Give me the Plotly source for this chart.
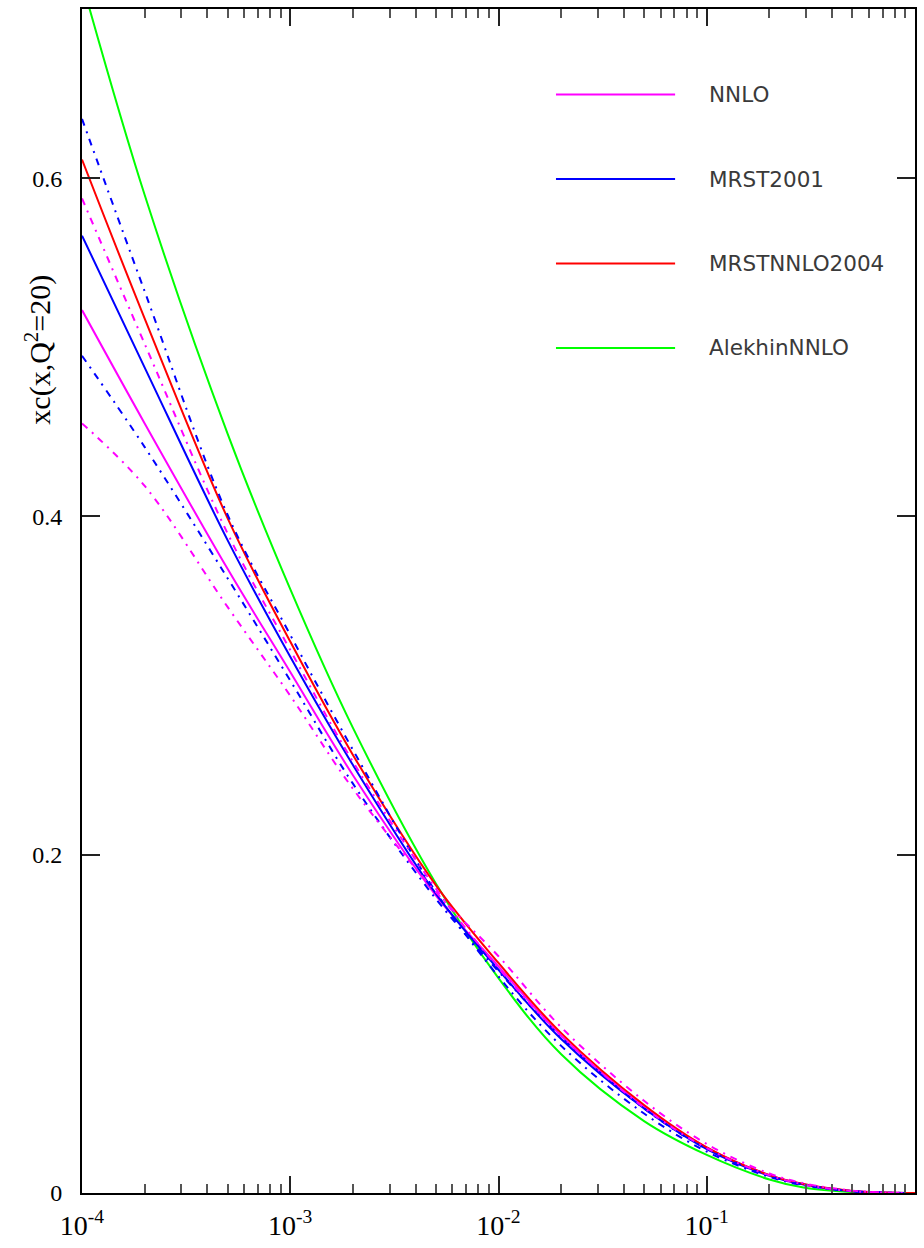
import plotly.graph_objects as go

# x grid (Bjorken x) at which the charm distributions are tabulated
x_pts = [1e-4, 2e-4, 5e-4, 1e-3, 2e-3, 5e-3, 1e-2, 2e-2, 5e-2, 0.1, 0.2, 0.3, 0.5, 0.7, 0.9]
x_red = x_pts + [1.0]

# xc(x, Q^2 = 20) for each parton set
nnlo = [0.522, 0.455, 0.369, 0.308, 0.247, 0.176, 0.134, 0.093, 0.051, 0.0268, 0.0105, 0.0049, 0.0012, 0.0003, 0.0]
mrst2001 = [0.566, 0.488, 0.386, 0.317, 0.253, 0.177, 0.132, 0.091, 0.050, 0.026, 0.0102, 0.0047, 0.0011, 0.0003, 0.0]
mrstnnlo2004 = [0.611, 0.517, 0.399, 0.326, 0.259, 0.182, 0.136, 0.0945, 0.052, 0.027, 0.0106, 0.0050, 0.0012, 0.0003, 0.0, 0.0]
alekhin = [0.716, 0.590, 0.449, 0.357, 0.275, 0.183, 0.127, 0.082, 0.0425, 0.0225, 0.0080, 0.0029, 0.0005, 0.0001, 0.0]

# uncertainty variations (dash-dotted)
nnlo_up = [0.588, 0.502, 0.390, 0.321, 0.255, 0.180, 0.133, 0.093, 0.0505, 0.0265, 0.0104, 0.0048, 0.0011, 0.0003, 0.0]
nnlo_dn = [0.455, 0.418, 0.3465, 0.294, 0.239, 0.178, 0.140, 0.098, 0.0545, 0.029, 0.0115, 0.0055, 0.0014, 0.0004, 0.0]
mrst_up = [0.635, 0.533, 0.401, 0.330, 0.262, 0.178, 0.128, 0.087, 0.047, 0.0245, 0.0095, 0.0043, 0.0010, 0.0002, 0.0]
mrst_dn = [0.495, 0.441, 0.3635, 0.303, 0.242, 0.174, 0.131, 0.092, 0.050, 0.026, 0.0102, 0.0047, 0.0011, 0.0003, 0.0]

x_tick_vals = [1e-4, 1e-3, 1e-2, 1e-1]
x_tick_text = ["10<sup>-4</sup>", "10<sup>-3</sup>", "10<sup>-2</sup>", "10<sup>-1</sup>"]
y_tick_vals = [0, 0.2, 0.4, 0.6]
y_tick_text = ["0", "0.2", "0.4", "0.6"]

legend_names = ["NNLO", "MRST2001", "MRSTNNLO2004", "AlekhinNNLO"]
MAGENTA, BLUE, RED, GREEN = "#ff00ff", "#0000ff", "#ff0000", "#00ff00"
legend_colors = [MAGENTA, BLUE, RED, GREEN]

DASHDOT = "7px,6px,2px,6px"

fig = go.Figure()


def add_curve(xs, ys, color, dash=None, name=None):
    fig.add_trace(go.Scatter(
        x=xs, y=ys, mode="lines", name=name, showlegend=False,
        line=dict(color=color, width=2, dash=dash, shape="spline", smoothing=1.0),
        hoverinfo="skip",
    ))


add_curve(x_pts, alekhin, GREEN, name="AlekhinNNLO")
add_curve(x_pts, nnlo, MAGENTA, name="NNLO")
add_curve(x_pts, mrst2001, BLUE, name="MRST2001")
add_curve(x_red, mrstnnlo2004, RED, name="MRSTNNLO2004")
add_curve(x_pts, mrst_up, BLUE, dash=DASHDOT)
add_curve(x_pts, mrst_dn, BLUE, dash=DASHDOT)
add_curve(x_pts, nnlo_up, MAGENTA, dash=DASHDOT)
add_curve(x_pts, nnlo_dn, MAGENTA, dash=DASHDOT)

# minor tick positions: 2..9 in each decade
minor_vals = [k * 10.0 ** e for e in range(-4, 0) for k in range(2, 10)]

serif = "Liberation Serif, Times New Roman, serif"

fig.update_xaxes(
    type="log", range=[-4, 0],
    tickmode="array", tickvals=x_tick_vals, ticktext=x_tick_text,
    ticks="inside", ticklen=17, tickwidth=1.5, tickcolor="#222",
    minor=dict(tickmode="array", tickvals=minor_vals, ticks="inside",
               ticklen=9, tickwidth=1.5, tickcolor="#555", showgrid=False),
    showline=True, linecolor="black", linewidth=2, mirror="allticks",
    showgrid=False, zeroline=False,
    tickfont=dict(family=serif, size=28, color="black"),
    ticklabelstandoff=6,
)
fig.update_yaxes(
    range=[0, 0.7],
    tickmode="array", tickvals=y_tick_vals, ticktext=y_tick_text,
    ticks="inside", ticklen=18, tickwidth=1.5, tickcolor="#222",
    showline=True, linecolor="black", linewidth=2, mirror="allticks",
    showgrid=False, zeroline=False,
    tickfont=dict(family=serif, size=24, color="black"),
    ticklabelstandoff=13,
)

# axis title
fig.add_annotation(
    xref="paper", yref="paper", x=-0.052, y=0.712,
    text="xc(x,Q<sup>2</sup>=20)", textangle=-90, showarrow=False,
    xanchor="center", yanchor="middle",
    font=dict(family=serif, size=30, color="black"),
)

# hand-placed key
legend_y = [0.9278, 0.8564, 0.7851, 0.7137]
for name, color, ly in zip(legend_names, legend_colors, legend_y):
    fig.add_shape(type="line", xref="paper", yref="paper",
                  x0=0.569, x1=0.712, y0=ly, y1=ly,
                  line=dict(color=color, width=2))
    fig.add_annotation(xref="paper", yref="paper", x=0.7505, y=ly,
                       text=name, showarrow=False, xanchor="left", yanchor="middle",
                       font=dict(family="DejaVu Sans, Verdana, sans-serif", size=21.5, color="#3a3a3a"))

fig.update_layout(
    width=924, height=1248,
    margin=dict(l=82, r=9, t=7, b=50),
    paper_bgcolor="white", plot_bgcolor="white",
    showlegend=False,
)

fig.write_html("out.html")
